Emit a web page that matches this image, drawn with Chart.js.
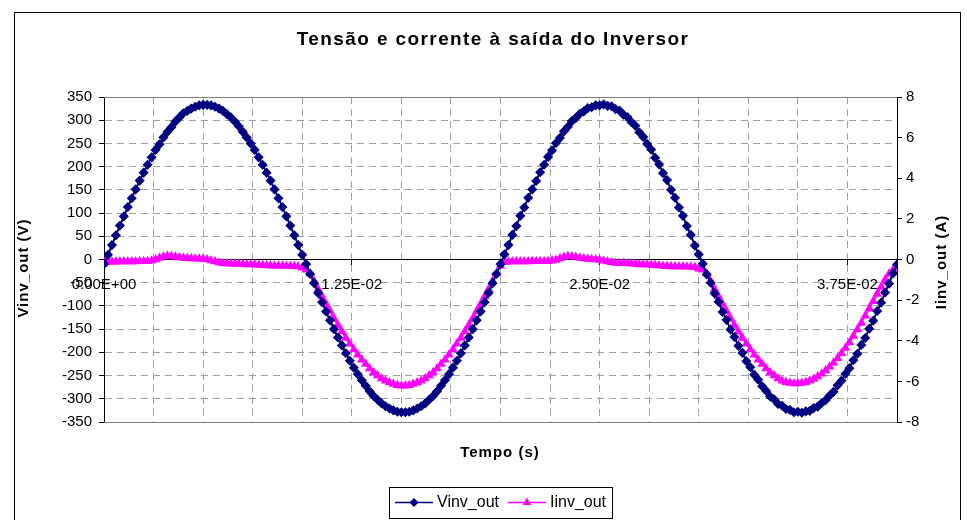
<!DOCTYPE html>
<html>
<head>
<meta charset="utf-8">
<script src="https://cdn.jsdelivr.net/npm/chart.js@4.4.1/dist/chart.umd.min.js"></script>
<style>
  html, body { margin: 0; padding: 0; background: #fff; }
  #chart { display: block; }
</style>
</head>
<body>
<canvas id="chart" width="967" height="520"></canvas>
<script>
// sample instants in milliseconds (0.2 ms step)
const timeMs = [
  0, 0.2, 0.4, 0.6, 0.8, 1, 1.2, 1.4, 1.6, 1.8,
  2, 2.2, 2.4, 2.6, 2.8, 3, 3.2, 3.4, 3.6, 3.8,
  4, 4.2, 4.4, 4.6, 4.8, 5, 5.2, 5.4, 5.6, 5.8,
  6, 6.2, 6.4, 6.6, 6.8, 7, 7.2, 7.4, 7.6, 7.8,
  8, 8.2, 8.4, 8.6, 8.8, 9, 9.2, 9.4, 9.6, 9.8,
  10, 10.2, 10.4, 10.6, 10.8, 11, 11.2, 11.4, 11.6, 11.8,
  12, 12.2, 12.4, 12.6, 12.8, 13, 13.2, 13.4, 13.6, 13.8,
  14, 14.2, 14.4, 14.6, 14.8, 15, 15.2, 15.4, 15.6, 15.8,
  16, 16.2, 16.4, 16.6, 16.8, 17, 17.2, 17.4, 17.6, 17.8,
  18, 18.2, 18.4, 18.6, 18.8, 19, 19.2, 19.4, 19.6, 19.8,
  20, 20.2, 20.4, 20.6, 20.8, 21, 21.2, 21.4, 21.6, 21.8,
  22, 22.2, 22.4, 22.6, 22.8, 23, 23.2, 23.4, 23.6, 23.8,
  24, 24.2, 24.4, 24.6, 24.8, 25, 25.2, 25.4, 25.6, 25.8,
  26, 26.2, 26.4, 26.6, 26.8, 27, 27.2, 27.4, 27.6, 27.8,
  28, 28.2, 28.4, 28.6, 28.8, 29, 29.2, 29.4, 29.6, 29.8,
  30, 30.2, 30.4, 30.6, 30.8, 31, 31.2, 31.4, 31.6, 31.8,
  32, 32.2, 32.4, 32.6, 32.8, 33, 33.2, 33.4, 33.6, 33.8,
  34, 34.2, 34.4, 34.6, 34.8, 35, 35.2, 35.4, 35.6, 35.8,
  36, 36.2, 36.4, 36.6, 36.8, 37, 37.2, 37.4, 37.6, 37.8,
  38, 38.2, 38.4, 38.6, 38.8, 39, 39.2, 39.4, 39.6, 39.8,
  40
];

// inverter output voltage (V)
const vinvOut = [
  -10,
  10, 31, 52, 73, 93, 113, 132, 151, 170, 187, 204, 220, 236, 248, 263, 275, 285, 297, 306, 315, 320, 325, 329, 332, 333,
  333, 332, 329, 325, 320, 313, 306, 297, 287, 275, 263, 250, 236, 220, 204, 187, 170, 151, 132, 113, 93, 73, 52, 31, 10,
  -10, -31, -51, -72, -92, -112, -131, -150, -168, -185, -202, -218, -233, -247, -260, -272, -284, -294, -302, -310, -316, -321, -325, -328, -329,
  -329, -328, -325, -321, -316, -310, -302, -294, -284, -272, -260, -247, -233, -218, -202, -185, -168, -150, -131, -112, -92, -72, -51, -31, -10,
  11, 31, 53, 72, 94, 112, 133, 151, 169, 188, 204, 221, 235, 251, 262, 276, 286, 298, 305, 314, 319, 326, 328, 332, 332,
  334, 331, 330, 324, 321, 312, 307, 296, 288, 274, 264, 249, 237, 219, 205, 186, 171, 150, 133, 112, 94, 72, 53, 30, 11,
  -9, -32, -50, -73, -91, -113, -130, -151, -167, -186, -201, -219, -232, -248, -259, -273, -283, -295, -301, -311, -315, -322, -324, -329, -328,
  -330, -327, -326, -320, -317, -309, -303, -293, -285, -271, -261, -246, -234, -217, -203, -184, -169, -149, -132, -111, -93, -71, -52, -30, -11
];

// inverter output current (A)
const iinvOut = [
  -0.15,
  -0.12, -0.11, -0.11, -0.10, -0.10, -0.10, -0.10, -0.10, -0.09, -0.09, -0.08, -0.06,
  0.00, 0.08, 0.14, 0.18, 0.16, 0.14, 0.10, 0.08, 0.06, 0.05, 0.04, 0.04, 0.02, 0.00,
  -0.05, -0.10, -0.15, -0.18, -0.20, -0.21, -0.22, -0.22, -0.23, -0.24, -0.24, -0.25,
  -0.27, -0.28, -0.30, -0.30, -0.31, -0.31, -0.31, -0.32, -0.32, -0.33, -0.35,
  -0.40,
  -0.50, -0.69, -1.06, -1.45, -1.82, -2.19, -2.54, -2.90, -3.23, -3.54, -3.86, -4.15, -4.43, -4.69, -4.93, -5.15, -5.37, -5.56, -5.71, -5.86, -5.97, -6.06, -6.13, -6.19, -6.21,
  -6.21, -6.19, -6.13, -6.06, -5.97, -5.86, -5.71, -5.56, -5.37, -5.15, -4.93, -4.69, -4.43, -4.15, -3.86, -3.54, -3.23, -2.90, -2.54, -2.19, -1.82, -1.45, -1.06, -0.69, -0.31,
  -0.12, -0.11, -0.10, -0.10, -0.10, -0.10, -0.10, -0.09, -0.09, -0.09, -0.08, -0.08, -0.06, -0.03,
  0.05, 0.12, 0.16, 0.15, 0.12, 0.08, 0.05, 0.03, 0.01, 0.00, -0.03, -0.06, -0.10, -0.14, -0.17, -0.18, -0.19, -0.20,
  -0.20, -0.22, -0.24, -0.25, -0.25, -0.27, -0.28, -0.30, -0.32, -0.33, -0.34, -0.34, -0.35, -0.35, -0.36, -0.36, -0.38, -0.45,
  -0.50, -0.69, -1.06, -1.45, -1.82, -2.19, -2.54, -2.90, -3.23, -3.54, -3.86, -4.15, -4.43, -4.69, -4.93, -5.15, -5.37, -5.56, -5.71, -5.86, -5.97, -6.04, -6.08, -6.10, -6.10,
  -6.08, -6.04, -5.97, -5.88, -5.76, -5.62, -5.46, -5.28, -5.08, -4.86, -4.62, -4.36, -4.08, -3.77, -3.45, -3.12, -2.77, -2.41, -2.06, -1.70, -1.35, -1.00, -0.70, -0.50, -0.35
];

// axis ranges and tick steps
const xRange = [0, 0.04];
const xMajor = 0.0125;
const xMinor = 0.0025;
const vRange = [-350, 350];
const vStep = 50;
const iRange = [-8, 8];
const iStep = 2;

const FONT = '"Liberation Sans", Arial, sans-serif';
const NAVY = '#000080';
const MAGENTA = '#FF00FF';
const GRID = '#a0a0a0';

function sci(v) {
  if (Math.abs(v) < 1e-12) return '0.00E+00';
  const e = Math.floor(Math.log10(Math.abs(v)) + 1e-9);
  const m = v / Math.pow(10, e);
  return m.toFixed(2) + 'E' + (e < 0 ? '-' : '+') + String(Math.abs(e)).padStart(2, '0');
}

const isMajor = v => Math.abs(v / xMajor - Math.round(v / xMajor)) < 1e-6;

const toPoints = ys => ys.map((y, i) => ({ x: timeMs[i] / 1000, y }));

// frame, titles and legend drawn around the plot
const decorations = {
  id: 'decorations',
  beforeDatasetsDraw(chart) {
    const { ctx, chartArea: a } = chart;
    ctx.save();
    ctx.strokeStyle = '#808080';
    ctx.lineWidth = 1;
    ctx.beginPath();
    ctx.moveTo(a.left, a.top + 0.5); ctx.lineTo(a.right, a.top + 0.5);
    ctx.moveTo(a.left, a.bottom + 0.5); ctx.lineTo(a.right, a.bottom + 0.5);
    ctx.stroke();
    ctx.restore();
  },
  afterDraw(chart) {
    const { ctx } = chart;
    ctx.save();
    // outer frame
    ctx.strokeStyle = '#000';
    ctx.lineWidth = 1;
    ctx.strokeRect(14.5, 12.5, 946, 520);

    ctx.fillStyle = '#000';
    ctx.textAlign = 'center';
    ctx.textBaseline = 'middle';

    ctx.font = 'bold 19px ' + FONT;
    ctx.letterSpacing = '1.4px';
    ctx.fillText('Tensão e corrente à saída do Inversor', 493, 40);

    ctx.font = 'bold 15px ' + FONT;
    ctx.letterSpacing = '1px';
    ctx.fillText('Tempo (s)', 500, 453);

    ctx.save();
    ctx.translate(24, 268);
    ctx.rotate(-Math.PI / 2);
    ctx.fillText('Vinv_out (V)', 0, 0);
    ctx.restore();

    ctx.save();
    ctx.translate(942, 262);
    ctx.rotate(-Math.PI / 2);
    ctx.fillText('Iinv_out (A)', 0, 0);
    ctx.restore();

    // legend
    ctx.letterSpacing = '0px';
    ctx.strokeRect(389.5, 487.5, 223, 31);
    const ly = 502.5;
    const entries = [
      { x: 395, color: NAVY, style: 'rectRot', label: 'Vinv_out' },
      { x: 508, color: MAGENTA, style: 'triangle', label: 'Iinv_out' }
    ];
    ctx.font = '16px ' + FONT;
    ctx.textAlign = 'left';
    entries.forEach(e => {
      ctx.strokeStyle = e.color;
      ctx.lineWidth = 1.5;
      ctx.beginPath();
      ctx.moveTo(e.x, ly); ctx.lineTo(e.x + 38, ly);
      ctx.stroke();
      ctx.fillStyle = e.color;
      Chart.helpers.drawPoint(ctx, { pointStyle: e.style, radius: 3.5, borderWidth: 1 }, e.x + 19, ly);
      ctx.fill();
      ctx.fillStyle = '#000';
      ctx.fillText(e.label, e.x + 42, ly);
    });
    ctx.restore();
  }
};

new Chart(document.getElementById('chart'), {
  type: 'scatter',
  data: {
    datasets: [
      {
        label: 'Vinv_out', data: toPoints(vinvOut), yAxisID: 'y', showLine: true,
        borderColor: NAVY, backgroundColor: NAVY, borderWidth: 2,
        pointStyle: 'rectRot', pointRadius: 4, pointBorderWidth: 1.5
      },
      {
        label: 'Iinv_out', data: toPoints(iinvOut), yAxisID: 'y1', showLine: true,
        borderColor: MAGENTA, backgroundColor: MAGENTA, borderWidth: 2,
        pointStyle: 'triangle', pointRadius: 4, pointBorderWidth: 1.5
      }
    ]
  },
  options: {
    responsive: false,
    animation: false,
    devicePixelRatio: 1,
    layout: { padding: { top: 97, bottom: 98, left: 0, right: 0 } },
    plugins: { legend: { display: false }, title: { display: false }, tooltip: { enabled: false } },
    scales: {
      x: {
        type: 'linear', min: xRange[0], max: xRange[1], position: { y: 0 },
        ticks: {
          stepSize: xMinor, maxTicksLimit: 100, autoSkip: false, maxRotation: 0, minRotation: 0,
          padding: 11, color: '#000', font: { family: FONT, size: 15 },
          callback: v => isMajor(v) ? sci(v) : ''
        },
        grid: {
          color: GRID, lineWidth: 1, tickLength: 5,
          tickColor: ctx => (ctx.tick && isMajor(ctx.tick.value)) ? '#000' : 'rgba(0,0,0,0)'
        },
        border: { color: '#000', width: 1, dash: [7, 5] }
      },
      y: {
        position: 'left', min: vRange[0], max: vRange[1],
        afterFit: s => { s.width = 104; },
        ticks: { stepSize: vStep, padding: 7, color: '#000', font: { family: FONT, size: 15 } },
        grid: { color: GRID, lineWidth: 1, tickLength: 5, tickColor: '#000' },
        border: { color: '#000', width: 1, dash: [7, 5] }
      },
      y1: {
        position: 'right', min: iRange[0], max: iRange[1],
        afterFit: s => { s.width = 70; },
        ticks: {
          stepSize: 1, padding: 4, color: '#000', font: { family: FONT, size: 15 },
          callback: v => (v % iStep === 0) ? String(v) : ''
        },
        grid: { drawOnChartArea: false, tickLength: 5, tickColor: '#000' },
        border: { color: '#000', width: 1 }
      }
    }
  },
  plugins: [decorations]
});
</script>
</body>
</html>
